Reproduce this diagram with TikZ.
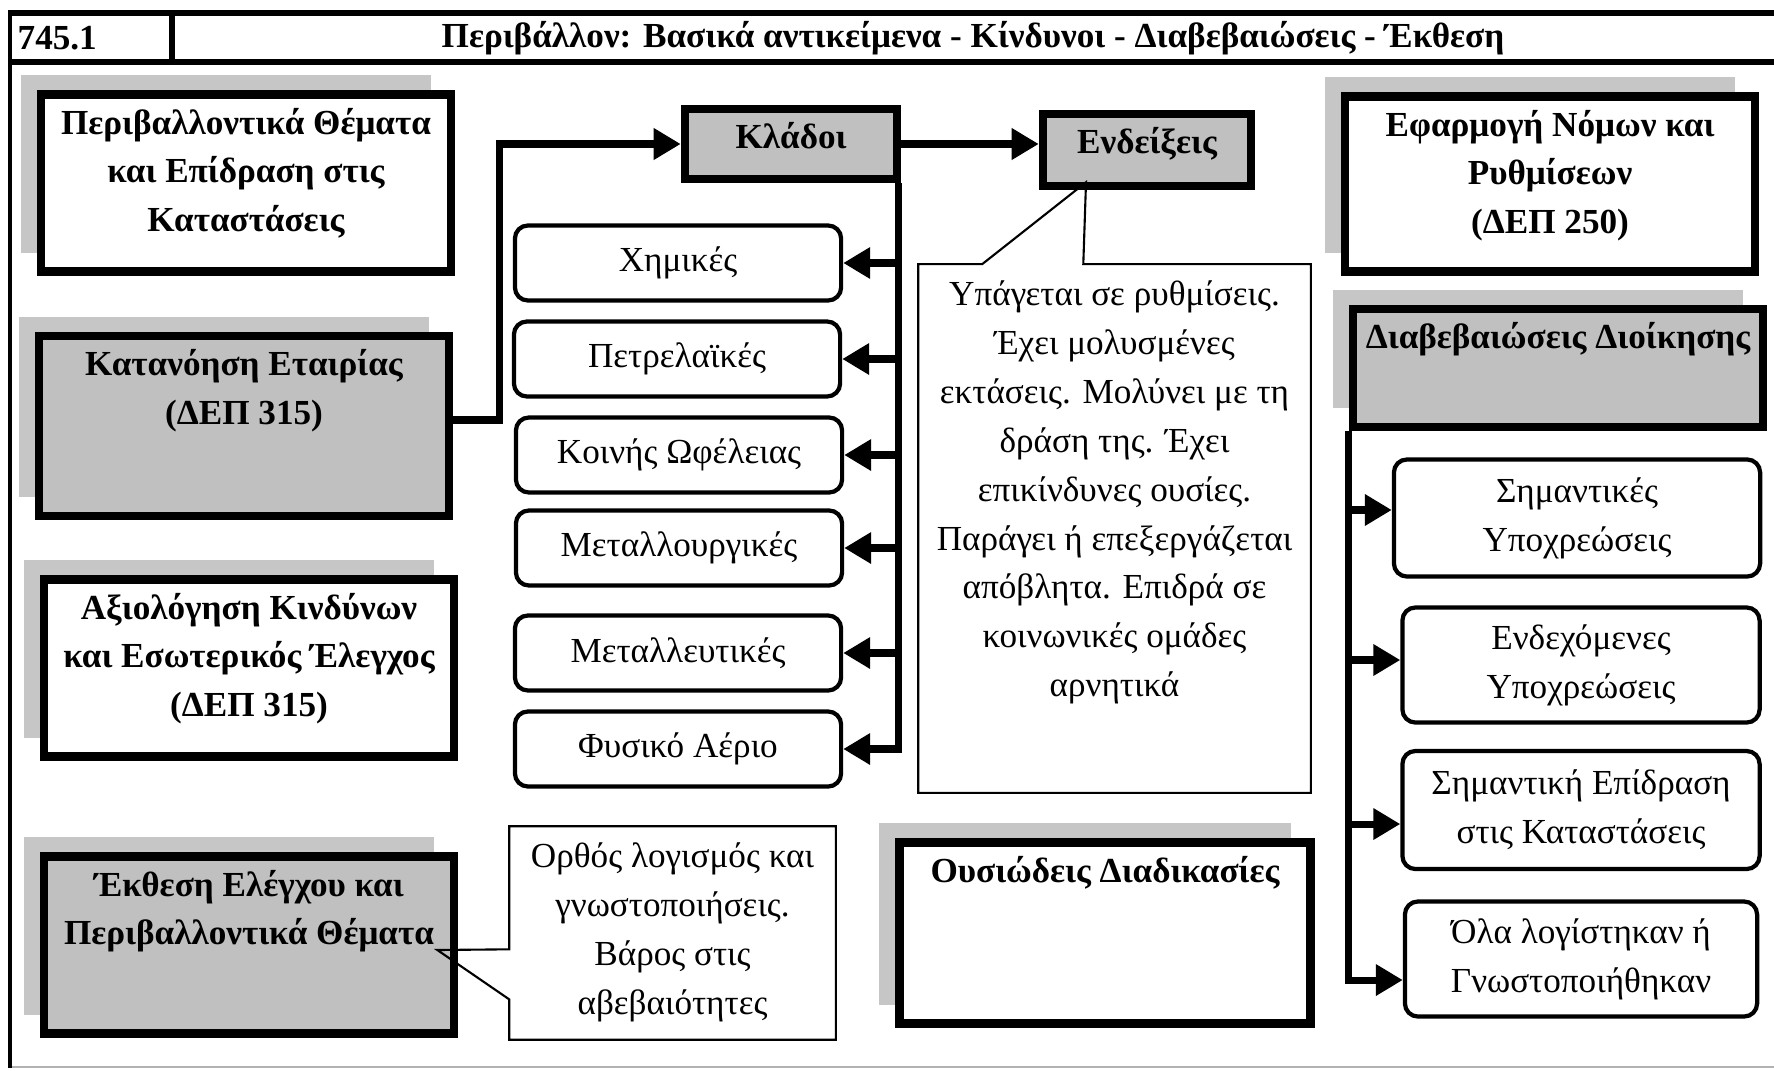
\documentclass[tikz,border=0pt]{standalone}
\usepackage{fontspec}
\setmainfont{Liberation Serif}
\usepackage{tikz}
\usetikzlibrary{arrows.meta,positioning,shadows}
\definecolor{boxfill}{HTML}{C0C0C0}
\definecolor{shade}{HTML}{C6C6C6}

\begin{document}
\begin{tikzpicture}[x=0.01cm,y=-0.01cm,
    every node/.style={font=\fontsize{10}{13.9}\selectfont},
    heading/.style={font=\fontsize{10}{13.9}\selectfont\bfseries,align=center,anchor=north,inner sep=0pt,yshift=-0.17cm},
    plate/.style={draw,line width=2.4pt,fill=white,label={[heading]north:{#1}}},
    topic/.style={plate={#1},minimum width=4.1cm,minimum height=1.77cm,
      general shadow={fill=shade,shadow xshift=-0.2cm,shadow yshift=0.19cm}},
    branch/.style={draw,line width=1.2pt,rounded corners=0.13cm,align=center,minimum width=3.26cm,minimum height=0.75cm},
    link/.style={line width=2pt,-{Triangle[length=0.27cm,width=0.3cm]}},
  ]
    \useasboundingbox (0,0) rectangle (1774,1070);
    % frame and header
    \draw[black!30,line width=0.6pt] (10,1067) -- (1774,1067);
    \draw[line width=1.4pt] (10,1068) -- (10,13);
    \draw[line width=1.7pt] (8,13) -- (1774,13);
    \draw[line width=1.7pt] (8,62) -- (1774,62);
    \draw[line width=1.5pt] (172,13) -- (172,62);
    \node[font=\fontsize{10}{13.9}\selectfont\bfseries,anchor=west,inner sep=0pt] (code) at (17,38) {745.1};
    \node[font=\fontsize{10}{13.9}\selectfont\bfseries] (title) at (973,38) {Περιβάλλον: Βασικά αντικείμενα - Κίνδυνοι - Διαβεβαιώσεις - Έκθεση};

    % left column
    \node[topic={Περιβαλλοντικά Θέματα\\και Επίδραση στις\\Καταστάσεις}] (env) at (246,183) {};
    \node[topic={Κατανόηση Εταιρίας\\(ΔΕΠ 315)},fill=boxfill,minimum height=1.8cm] (firm) at (244,426) {};
    \node[topic={Αξιολόγηση Κινδύνων\\και Εσωτερικός Έλεγχος\\(ΔΕΠ 315)}] (risk) at (249,668) {};
    \node[topic={Έκθεση Ελέγχου και\\Περιβαλλοντικά Θέματα},fill=boxfill] (report) at (249,945) {};

    % middle column
    \node[plate={Κλάδοι},fill=boxfill,minimum width=2.12cm,minimum height=0.7cm] (sect) at (791,144) {};
    \node[plate={Ενδείξεις},fill=boxfill,minimum width=2.08cm,minimum height=0.72cm] (sign) at (1147,150) {};
    \node[branch] (chem) at (678,263) {Χημικές};
    \node[branch] (oil) at (677,359) {Πετρελαϊκές};
    \node[branch] (util) at (679,455) {Κοινής Ωφέλειας};
    \node[branch] (metal) at (679,548) {Μεταλλουργικές};
    \node[branch] (mine) at (678,653) {Μεταλλευτικές};
    \node[branch] (gas) at (678,749) {Φυσικό Αέριο};
    \node[topic={Ουσιώδεις Διαδικασίες},minimum width=4.11cm,minimum height=1.81cm] (subst) at (1105,933) {};

    % right column
    \node[topic={Εφαρμογή Νόμων και\\Ρυθμίσεων\\(ΔΕΠ 250)},minimum height=1.75cm] (law) at (1550,184) {};
    \node[topic={Διαβεβαιώσεις Διοίκησης},fill=boxfill,minimum height=1.18cm] (mgmt) at (1558,368) {};
    \node[branch,minimum width=3.66cm,minimum height=1.17cm] (liab) at (1577,518) {Σημαντικές\\Υποχρεώσεις};
    \node[branch,minimum width=3.57cm,minimum height=1.15cm] (cont) at (1581,665) {Ενδεχόμενες\\Υποχρεώσεις};
    \node[branch,minimum width=3.57cm,minimum height=1.18cm] (impact) at (1581,810) {Σημαντική Επίδραση\\στις Καταστάσεις};
    \node[branch,minimum width=3.52cm,minimum height=1.15cm] (disc) at (1581,959) {Όλα λογίστηκαν ή\\Γνωστοποιήθηκαν};

    % callouts
    \node[minimum width=3.91cm,minimum height=5.27cm,
      label={[heading,font=\fontsize{10}{13.9}\selectfont,yshift=0.01cm]north:{Υπάγεται σε ρυθμίσεις.\\Έχει μολυσμένες\\εκτάσεις. Μολύνει με τη\\δράση της. Έχει\\επικίνδυνες ουσίες.\\Παράγει ή επεξεργάζεται\\απόβλητα. Επιδρά σε\\κοινωνικές ομάδες\\αρνητικά}}] (signnote) at (1114.5,528.5) {};
    \coordinate (signtip) at ([shift={(-61,-8)}]sign.south);
    \draw[line width=0.6pt] (signnote.north west) -- ++(64,0) -- (signtip) -- ([xshift=1.65cm]signnote.north west)
      -- (signnote.north east) -- (signnote.south east) -- (signnote.south west) -- cycle;
    \node[minimum width=3.25cm,minimum height=2.12cm,
      label={[heading,font=\fontsize{10}{13.9}\selectfont,yshift=0.01cm]north:{Ορθός λογισμός και\\γνωστοποιήσεις.\\Βάρος στις\\αβεβαιότητες}}] (repnote) at (672.5,933) {};
    \coordinate (reptip) at ([shift={(-21,5)}]report.east);
    \draw[line width=0.6pt] (repnote.north west) -- ([yshift=-1.23cm]repnote.north west) -- (reptip)
      -- ([yshift=-1.73cm]repnote.north west) -- (repnote.south west) -- (repnote.south east) -- (repnote.north east) -- cycle;

    % connectors
    \draw[link] ([yshift=0.06cm]firm.east) -- ++(46,0) |- (sect.west);
    \draw[link] (sect.east) -- (sect.east -| sign.west);
    \coordinate (sectbus) at ([xshift=-0.03cm]sect.south east);
    \draw[link] (sectbus) |- (gas.east);
    \draw[link] (sectbus |- chem.east) -- (chem.east);
    \draw[link] (sectbus |- oil.east) -- (oil.east);
    \draw[link] (sectbus |- util.east) -- (util.east);
    \draw[link] (sectbus |- metal.east) -- (metal.east);
    \draw[link] (sectbus |- mine.east) -- (mine.east);
    \coordinate (mgmtbus) at (mgmt.south west);
    \coordinate (liabin) at ([yshift=0.08cm]liab.west);
    \coordinate (contin) at ([yshift=0.05cm]cont.west);
    \coordinate (impactin) at ([yshift=-0.14cm]impact.west);
    \coordinate (discin) at ([yshift=-0.21cm]disc.west);
    \draw[link] (mgmtbus) |- (discin);
    \draw[link] (mgmtbus |- liabin) -- (liabin);
    \draw[link] (mgmtbus |- contin) -- (contin);
    \draw[link] (mgmtbus |- impactin) -- (impactin);
  \end{tikzpicture}
\end{document}
